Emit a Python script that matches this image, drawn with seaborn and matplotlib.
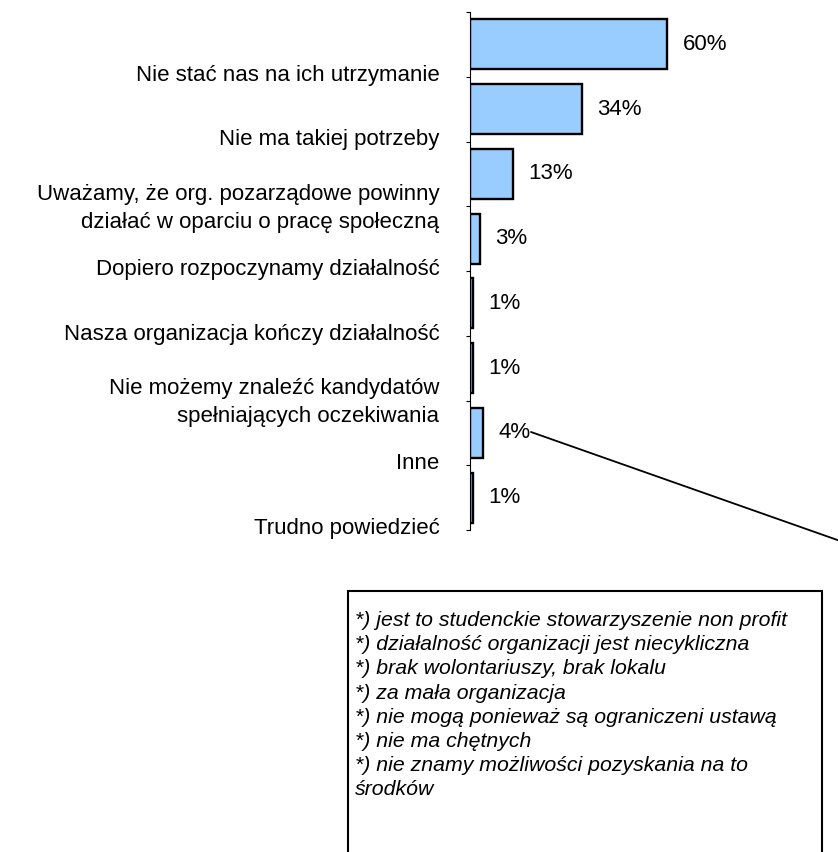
import numpy as np
import matplotlib.pyplot as plt
import seaborn as sns
import pandas as pd
from matplotlib.patches import Rectangle
from matplotlib.lines import Line2D
from matplotlib.transforms import ScaledTranslation

# === DANE ===
categories = [
    "Nie stać nas na ich utrzymanie",
    "Nie ma takiej potrzeby",
    "Uważamy, że org. pozarządowe powinny\ndziałać w oparciu o pracę społeczną",
    "Dopiero rozpoczynamy działalność",
    "Nasza organizacja kończy działalność",
    "Nie możemy znaleźć kandydatów\nspełniających oczekiwania",
    "Inne",
    "Trudno powiedzieć",
]
values = [60, 34, 13, 3, 1, 1, 4, 1]

notes = [
    "*) jest to studenckie stowarzyszenie non profit",
    "*) działalność organizacji jest niecykliczna",
    "*) brak wolontariuszy, brak lokalu",
    "*) za mała organizacja",
    "*) nie mogą ponieważ są ograniczeni ustawą",
    "*) nie ma chętnych",
    "*) nie znamy możliwości pozyskania na to",
    "środków",
]

W, H = 838, 852

sns.set_theme(style="white")
plt.rcParams['font.family'] = ['Liberation Sans', 'DejaVu Sans']

fig = plt.figure(figsize=(W / 100, H / 100), dpi=100)
ax = fig.add_axes([470 / W, 1 - 530 / H, 328.5 / W, 518 / H])

df = pd.DataFrame({"kategoria": categories, "procent": values})
sns.barplot(data=df, x="procent", y="kategoria", orient="h",
            color="#99CCFF", saturation=1, edgecolor="black",
            linewidth=1.7, width=0.77, ax=ax)

ax.set_xlim(0, 100)
ax.set_ylim(len(categories) - 0.5, -0.5)
ax.set_xticks([])
ax.set_xlabel("")
ax.set_ylabel("")

# etykiety kategorii na granicach slotów (jak w oryginale)
ax.set_yticks(np.arange(len(categories)) + 0.5, categories)
ax.set_yticks([-0.5], minor=True)
ax.tick_params(axis="y", which="both", left=True, length=3, width=0.8,
               direction="out", color="black", pad=19,
               labelsize=16, labelcolor="black")
shift = ScaledTranslation(0, 0.04, fig.dpi_scale_trans)
for lbl in ax.get_yticklabels():
    lbl.set_linespacing(1.45)
    lbl.set_transform(lbl.get_transform() + shift)

for side in ["top", "right", "bottom"]:
    ax.spines[side].set_visible(False)
ax.spines["left"].set_color("black")
ax.spines["left"].set_linewidth(0.8)

for container in ax.containers:
    ax.bar_label(container, labels=[f"{v}%" for v in values],
                 padding=11, fontsize=16, color="black")

# === LINIA OBJAŚNIENIA I RAMKA ===
fig.add_artist(Line2D([531 / W, 880 / W], [1 - 432 / H, 1 - 555 / H],
                      color="black", lw=1.3))

fig.add_artist(Rectangle((348 / W, -0.05), (822 - 348) / W, (1 - 591 / H) + 0.05,
                         fill=False, edgecolor="black", lw=1.5))

for i, line in enumerate(notes):
    fig.text(355 / W, 1 - (626 + 24.2 * i) / H, line, ha="left",
             va="baseline", fontsize=15.3, style="italic", color="black")

fig.savefig("out.png", dpi=100)
